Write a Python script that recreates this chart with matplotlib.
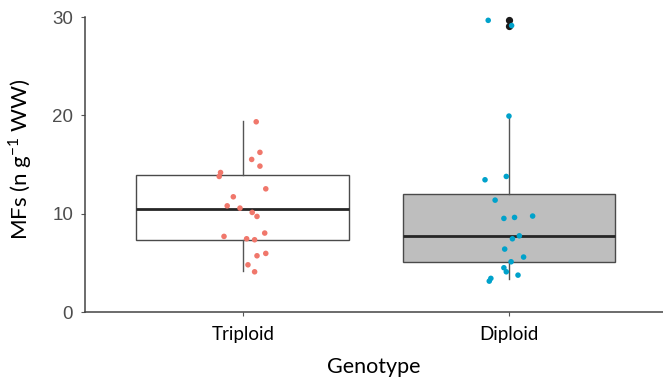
import matplotlib
matplotlib.use("Agg")
import matplotlib.pyplot as plt
import numpy as np

categories = ["Triploid", "Diploid"]

# box statistics
box_q1 = [7.35, 5.06]
box_med = [10.45, 7.78]
box_q3 = [13.95, 12.0]
whisk_lo = [4.15, 3.33]
whisk_hi = [19.4, 19.94]
outliers = [[], [29.75, 29.15]]

# jittered points: values and horizontal jitter offsets
trip_vals = [19.36, 16.25, 15.53, 14.85, 14.2, 13.8, 12.54, 11.73, 10.81, 10.58,
             10.14, 9.73, 7.70, 7.46, 7.36, 8.04, 5.97, 5.73, 4.81, 4.10]
trip_jit = [0.05, 0.064, 0.033, 0.064, -0.084, -0.089, 0.086, -0.036, -0.059, -0.011,
            0.035, 0.053, -0.071, 0.014, 0.044, 0.082, 0.086, 0.053, 0.019, 0.044]
dip_vals = [29.68, 29.15, 19.94, 13.46, 13.8, 11.39, 9.53, 9.63, 9.77, 7.76,
            7.46, 6.41, 5.6, 5.12, 4.51, 4.10, 3.76, 3.43, 3.15]
dip_jit = [-0.078, 0.01, 0.0, -0.09, -0.01, -0.052, -0.019, 0.021, 0.089, 0.039,
           0.013, -0.016, 0.055, 0.008, -0.019, -0.010, 0.034, -0.068, -0.074]

box_fill = ["white", "#BEBEBE"]
point_colors = ["#F0776B", "#00A2CB"]

fig = plt.figure(figsize=(6.63, 3.82), dpi=100)
ax = fig.add_axes([0.128, 0.183, 0.872, 0.772])

stats = []
for i in range(2):
    stats.append(dict(med=box_med[i], q1=box_q1[i], q3=box_q3[i],
                      whislo=whisk_lo[i], whishi=whisk_hi[i], fliers=outliers[i]))

line_col = "#4a4a4a"
bp = ax.bxp(stats, positions=[0, 1], widths=0.8, patch_artist=True, showcaps=False,
            boxprops=dict(edgecolor=line_col, linewidth=1.0),
            medianprops=dict(color="#262626", linewidth=2.0),
            whiskerprops=dict(color="#555555", linewidth=1.0),
            flierprops=dict(marker="o", markerfacecolor="#1a1a1a", markeredgecolor="#1a1a1a",
                            markersize=4.2))
for patch, fc in zip(bp["boxes"], box_fill):
    patch.set_facecolor(fc)
for f in bp["fliers"]:
    f.set_clip_on(False)

for i, (vals, jit) in enumerate([(trip_vals, trip_jit), (dip_vals, dip_jit)]):
    xs = np.array(jit) + i
    ax.scatter(xs, vals, s=16, color=point_colors[i], edgecolors="none", zorder=5, clip_on=False)

ax.set_xlim(-0.594, 1.579)
ax.set_ylim(0, 30)
ax.set_yticks([0, 10, 20, 30])
ax.set_xticks([0, 1])
ax.set_xticklabels(categories, fontfamily="Lato", fontsize=13.5, color="black")
for lab in ax.get_yticklabels():
    lab.set_fontfamily("Liberation Sans")
    lab.set_fontsize(13.5)
    lab.set_color("#4D4D4D")

for s in ["top", "right"]:
    ax.spines[s].set_visible(False)
for s in ["left", "bottom"]:
    ax.spines[s].set_color("#444444")
    ax.spines[s].set_linewidth(1.1)
ax.tick_params(axis="both", length=3, width=0.8, color="#555555")
ax.tick_params(axis="y", pad=5.5)
ax.tick_params(axis="x", pad=7)

ax.set_ylabel("MFs (n g$^{\\mathregular{-1}}$ WW)", fontfamily="Lato", fontsize=16, color="black")
ax.yaxis.set_label_coords(-0.088, 0.519)
ax.set_xlabel("Genotype", fontfamily="Lato", fontsize=15.5, color="black", labelpad=10)

fig.savefig("out.png", dpi=100)
